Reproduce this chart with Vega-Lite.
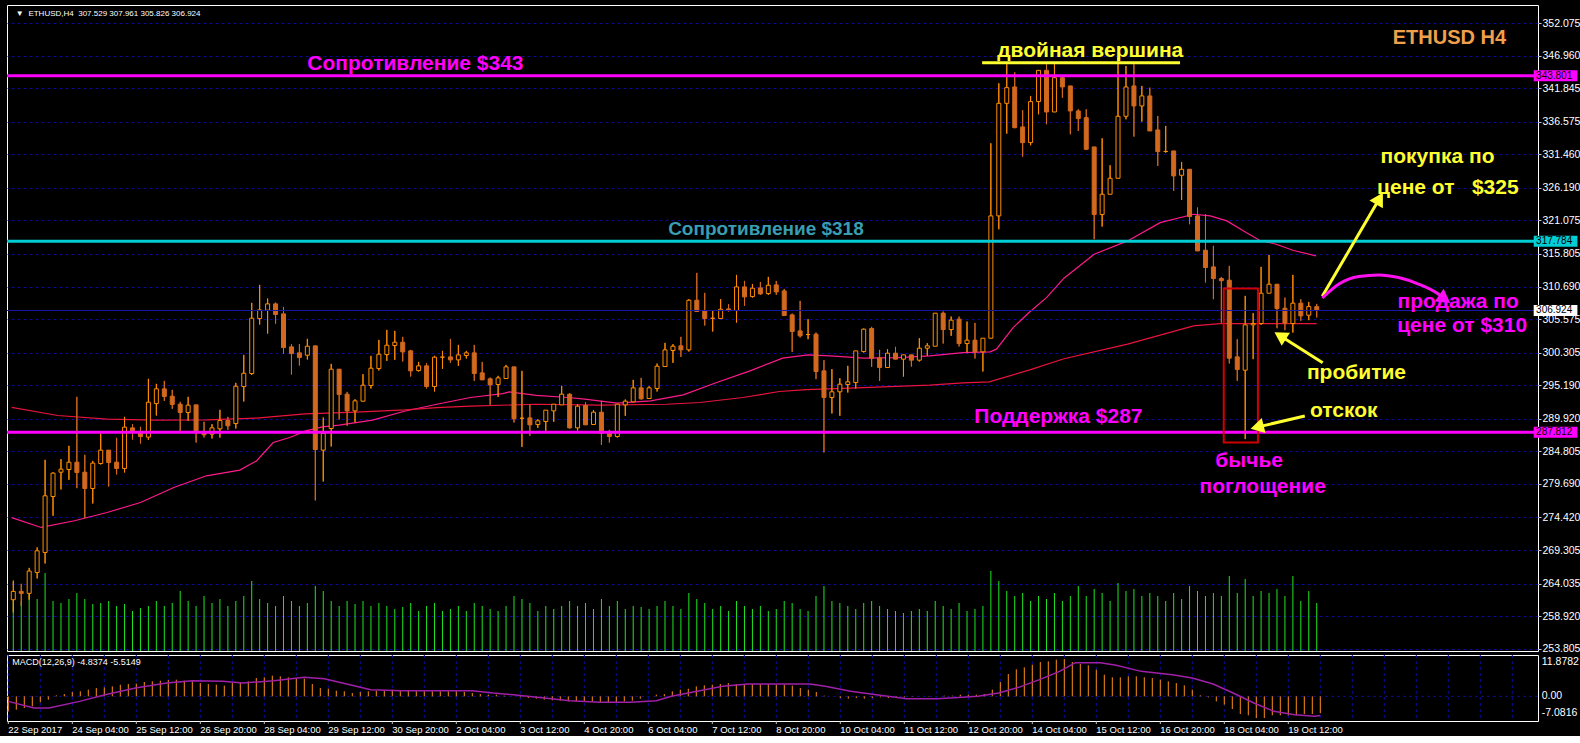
{
"$schema": "https://vega.github.io/schema/vega-lite/v6.json",
"background": "#000000",
"padding": {"left": 4, "top": 4, "right": 0, "bottom": 0},
"bounds": "flush",
"config": {"view": {"stroke": "#ffffff", "strokeWidth": 1}, "font": "Liberation Sans"},
"spacing": 4,
"datasets": {
"c": [
{"k":0,"o":261.5,"h":264.5,"l":259.5,"c":262.8,"v":60,"m":-4.31},
{"k":1,"o":262.8,"h":264.0,"l":260.5,"c":262.5,"v":50,"m":-3.83},
{"k":2,"o":262.5,"h":266.5,"l":261.5,"c":266.0,"v":62,"m":-3.35},
{"k":3,"o":265.78,"h":269.71,"l":264.84,"c":269.18,"v":52,"m":-2.87},
{"k":4,"o":268.92,"h":283.47,"l":267.19,"c":277.82,"v":78,"m":-1.72},
{"k":5,"o":277.71,"h":281.5,"l":274.68,"c":281.38,"v":50,"m":-0.96},
{"k":6,"o":281.53,"h":283.57,"l":278.81,"c":282.0,"v":48,"m":0.3},
{"k":7,"o":281.95,"h":285.67,"l":280.33,"c":283.1,"v":52,"m":0.67},
{"k":8,"o":283.1,"h":293.36,"l":279.02,"c":281.48,"v":58,"m":1.25},
{"k":9,"o":281.53,"h":284.25,"l":274.31,"c":278.97,"v":52,"m":1.44},
{"k":10,"o":278.97,"h":283.3,"l":276.61,"c":282.95,"v":47,"m":1.92},
{"k":11,"o":282.89,"h":287.6,"l":282.74,"c":284.99,"v":48,"m":2.39},
{"k":12,"o":284.99,"h":285.0,"l":279.28,"c":283.05,"v":50,"m":2.59},
{"k":13,"o":283.1,"h":286.92,"l":281.17,"c":282.11,"v":45,"m":2.87},
{"k":14,"o":282.11,"h":290.22,"l":281.48,"c":288.6,"v":47,"m":3.35},
{"k":15,"o":288.49,"h":289.07,"l":286.66,"c":288.02,"v":40,"m":3.54},
{"k":16,"o":287.76,"h":288.65,"l":286.03,"c":287.13,"v":43,"m":3.64},
{"k":17,"o":287.03,"h":296.19,"l":286.61,"c":292.52,"v":45,"m":4.12},
{"k":18,"o":292.31,"h":295.4,"l":290.43,"c":294.62,"v":50,"m":4.31},
{"k":19,"o":294.62,"h":295.87,"l":292.73,"c":293.41,"v":45,"m":4.5},
{"k":20,"o":293.46,"h":294.46,"l":291.48,"c":292.16,"v":48,"m":4.69},
{"k":21,"o":292.21,"h":292.57,"l":288.02,"c":290.9,"v":60,"m":4.79},
{"k":22,"o":290.9,"h":293.36,"l":289.59,"c":292.05,"v":50,"m":4.5},
{"k":23,"o":292.1,"h":292.1,"l":286.19,"c":288.02,"v":45,"m":4.31},
{"k":24,"o":287.76,"h":289.44,"l":286.98,"c":287.4,"v":55,"m":3.83},
{"k":25,"o":287.5,"h":289.07,"l":286.82,"c":288.49,"v":48,"m":3.54},
{"k":26,"o":288.34,"h":291.32,"l":286.97,"c":289.64,"v":52,"m":3.35},
{"k":27,"o":289.64,"h":290.22,"l":288.18,"c":288.81,"v":45,"m":3.07},
{"k":28,"o":289.17,"h":295.56,"l":288.39,"c":295.03,"v":50,"m":3.83},
{"k":29,"o":294.98,"h":299.95,"l":292.63,"c":297.07,"v":55,"m":4.12},
{"k":30,"o":297.02,"h":308.12,"l":296.81,"c":305.71,"v":70,"m":4.31},
{"k":31,"o":305.66,"h":310.94,"l":304.72,"c":307.02,"v":52,"m":5.27},
{"k":32,"o":306.97,"h":308.8,"l":303.3,"c":307.96,"v":48,"m":5.46},
{"k":33,"o":307.96,"h":308.17,"l":304.87,"c":306.29,"v":45,"m":5.94},
{"k":34,"o":306.39,"h":307.49,"l":300.16,"c":301.1,"v":55,"m":5.75},
{"k":35,"o":301.21,"h":301.63,"l":296.87,"c":300.16,"v":50,"m":5.46},
{"k":36,"o":300.27,"h":301.63,"l":298.28,"c":299.53,"v":45,"m":5.27},
{"k":37,"o":299.9,"h":302.47,"l":299.22,"c":301.31,"v":48,"m":5.08},
{"k":38,"o":301.37,"h":301.37,"l":277.09,"c":285.09,"v":65,"m":3.54},
{"k":39,"o":284.99,"h":290.12,"l":280.07,"c":287.6,"v":60,"m":2.39},
{"k":40,"o":288.39,"h":298.54,"l":285.56,"c":297.7,"v":50,"m":2.2},
{"k":41,"o":297.7,"h":297.7,"l":289.8,"c":293.73,"v":45,"m":1.63},
{"k":42,"o":293.78,"h":294.14,"l":288.81,"c":291.16,"v":50,"m":1.44},
{"k":43,"o":291.16,"h":292.99,"l":289.33,"c":292.73,"v":47,"m":0.96},
{"k":44,"o":292.68,"h":296.92,"l":292.68,"c":295.19,"v":50,"m":1.25},
{"k":45,"o":295.14,"h":299.8,"l":294.67,"c":297.86,"v":45,"m":1.44},
{"k":46,"o":297.81,"h":302.31,"l":297.5,"c":300.06,"v":48,"m":1.63},
{"k":47,"o":300.0,"h":303.88,"l":299.01,"c":301.47,"v":45,"m":1.63},
{"k":48,"o":301.42,"h":303.72,"l":299.17,"c":301.94,"v":42,"m":1.92},
{"k":49,"o":301.94,"h":302.78,"l":298.91,"c":300.42,"v":44,"m":1.82},
{"k":50,"o":300.58,"h":300.74,"l":296.55,"c":297.44,"v":48,"m":1.63},
{"k":51,"o":297.49,"h":298.85,"l":297.34,"c":298.23,"v":40,"m":1.44},
{"k":52,"o":298.23,"h":298.64,"l":294.67,"c":294.98,"v":45,"m":1.44},
{"k":53,"o":294.98,"h":299.8,"l":294.2,"c":299.59,"v":48,"m":1.44},
{"k":54,"o":299.6,"h":300.58,"l":297.76,"c":299.6,"v":40,"m":1.44},
{"k":55,"o":299.64,"h":302.46,"l":298.7,"c":299.17,"v":42,"m":1.44},
{"k":56,"o":299.17,"h":301.52,"l":298.23,"c":299.95,"v":45,"m":1.44},
{"k":57,"o":299.85,"h":300.58,"l":299.38,"c":300.27,"v":40,"m":1.25},
{"k":58,"o":300.27,"h":301.52,"l":295.87,"c":297.02,"v":48,"m":0.96},
{"k":59,"o":297.13,"h":298.85,"l":296.03,"c":296.03,"v":45,"m":0.67},
{"k":60,"o":296.19,"h":296.39,"l":292.1,"c":295.24,"v":42,"m":0.48},
{"k":61,"o":295.3,"h":296.66,"l":293.36,"c":296.34,"v":40,"m":0.48},
{"k":62,"o":296.24,"h":298.38,"l":296.24,"c":298.07,"v":45,"m":0.19},
{"k":63,"o":298.07,"h":298.07,"l":289.33,"c":289.91,"v":55,"m":0.0},
{"k":64,"o":290.0,"h":297.44,"l":285.51,"c":290.0,"v":52,"m":-0.29},
{"k":65,"o":290.06,"h":292.16,"l":287.24,"c":288.96,"v":48,"m":-0.48},
{"k":66,"o":289.02,"h":289.85,"l":288.49,"c":289.59,"v":40,"m":-0.67},
{"k":67,"o":289.49,"h":291.27,"l":288.02,"c":291.27,"v":45,"m":-0.96},
{"k":68,"o":291.16,"h":292.21,"l":289.44,"c":292.21,"v":42,"m":-1.15},
{"k":69,"o":292.1,"h":295.09,"l":292.1,"c":293.78,"v":45,"m":-1.25},
{"k":70,"o":293.78,"h":293.93,"l":288.39,"c":288.49,"v":50,"m":-1.44},
{"k":71,"o":288.49,"h":292.21,"l":288.07,"c":291.9,"v":45,"m":-1.44},
{"k":72,"o":292.0,"h":292.52,"l":288.96,"c":288.96,"v":48,"m":-1.63},
{"k":73,"o":289.02,"h":291.27,"l":289.02,"c":290.95,"v":42,"m":-1.63},
{"k":74,"o":290.95,"h":292.73,"l":285.83,"c":287.6,"v":52,"m":-1.72},
{"k":75,"o":287.6,"h":288.18,"l":286.19,"c":287.13,"v":45,"m":-1.92},
{"k":76,"o":287.13,"h":292.21,"l":286.98,"c":292.21,"v":50,"m":-1.63},
{"k":77,"o":292.1,"h":292.94,"l":290.38,"c":292.68,"v":42,"m":-1.44},
{"k":78,"o":292.58,"h":296.03,"l":292.58,"c":294.77,"v":45,"m":-1.25},
{"k":79,"o":294.77,"h":296.34,"l":292.94,"c":293.05,"v":44,"m":-0.67},
{"k":80,"o":293.1,"h":295.03,"l":293.1,"c":294.77,"v":42,"m":0.0},
{"k":81,"o":294.67,"h":298.59,"l":294.2,"c":298.17,"v":45,"m":0.48},
{"k":82,"o":298.12,"h":301.84,"l":298.12,"c":300.74,"v":50,"m":0.67},
{"k":83,"o":300.64,"h":301.63,"l":298.7,"c":301.31,"v":45,"m":1.44},
{"k":84,"o":301.37,"h":302.78,"l":299.64,"c":300.74,"v":42,"m":1.92},
{"k":85,"o":300.74,"h":308.69,"l":300.48,"c":308.53,"v":58,"m":2.2},
{"k":86,"o":308.53,"h":312.83,"l":306.76,"c":306.76,"v":52,"m":2.87},
{"k":87,"o":306.86,"h":309.69,"l":304.56,"c":305.66,"v":48,"m":3.16},
{"k":88,"o":305.7,"h":306.86,"l":303.62,"c":305.7,"v":42,"m":3.35},
{"k":89,"o":305.66,"h":308.69,"l":305.66,"c":307.12,"v":45,"m":3.54},
{"k":90,"o":307.17,"h":307.91,"l":306.76,"c":306.91,"v":40,"m":3.83},
{"k":91,"o":306.91,"h":312.51,"l":305.03,"c":310.63,"v":50,"m":3.54},
{"k":92,"o":310.63,"h":311.57,"l":307.65,"c":309.06,"v":45,"m":3.54},
{"k":93,"o":309.11,"h":311.05,"l":308.95,"c":310.42,"v":42,"m":3.54},
{"k":94,"o":310.47,"h":311.41,"l":309.37,"c":309.53,"v":45,"m":3.54},
{"k":95,"o":309.58,"h":312.2,"l":309.37,"c":310.89,"v":40,"m":3.54},
{"k":96,"o":310.94,"h":311.57,"l":309.37,"c":309.84,"v":42,"m":3.35},
{"k":97,"o":310.0,"h":310.31,"l":306.13,"c":306.13,"v":50,"m":3.35},
{"k":98,"o":306.23,"h":306.44,"l":300.43,"c":303.62,"v":48,"m":3.07},
{"k":99,"o":303.72,"h":308.43,"l":302.68,"c":302.94,"v":42,"m":2.39},
{"k":100,"o":303.15,"h":305.56,"l":302.41,"c":303.15,"v":40,"m":1.92},
{"k":101,"o":303.2,"h":303.46,"l":296.14,"c":297.34,"v":55,"m":1.25},
{"k":102,"o":297.44,"h":299.12,"l":284.62,"c":293.26,"v":65,"m":0.19},
{"k":103,"o":293.26,"h":297.71,"l":290.75,"c":294.15,"v":50,"m":0.0},
{"k":104,"o":294.15,"h":296.29,"l":290.38,"c":295.35,"v":48,"m":-0.48},
{"k":105,"o":295.3,"h":298.23,"l":294.04,"c":295.72,"v":45,"m":-0.67},
{"k":106,"o":295.61,"h":300.58,"l":294.67,"c":300.58,"v":42,"m":-0.48},
{"k":107,"o":300.48,"h":304.09,"l":300.32,"c":303.99,"v":48,"m":-0.67},
{"k":108,"o":304.09,"h":304.35,"l":298.07,"c":299.43,"v":50,"m":-0.48},
{"k":109,"o":299.48,"h":300.74,"l":295.87,"c":297.97,"v":45,"m":-0.29},
{"k":110,"o":297.97,"h":300.84,"l":297.97,"c":300.22,"v":42,"m":-0.48},
{"k":111,"o":300.22,"h":301.21,"l":299.28,"c":299.28,"v":40,"m":-0.29},
{"k":112,"o":299.28,"h":299.96,"l":296.55,"c":299.96,"v":38,"m":-0.29},
{"k":113,"o":299.96,"h":299.96,"l":298.12,"c":299.12,"v":40,"m":-0.1},
{"k":114,"o":299.12,"h":302.57,"l":298.91,"c":301.0,"v":42,"m":0.0},
{"k":115,"o":301.0,"h":301.79,"l":299.8,"c":301.37,"v":40,"m":-0.1},
{"k":116,"o":301.31,"h":306.5,"l":301.31,"c":306.5,"v":50,"m":0.0},
{"k":117,"o":306.5,"h":306.76,"l":301.73,"c":303.93,"v":45,"m":0.19},
{"k":118,"o":303.93,"h":305.97,"l":302.94,"c":305.4,"v":42,"m":0.19},
{"k":119,"o":305.56,"h":305.97,"l":301.27,"c":301.73,"v":48,"m":0.48},
{"k":120,"o":301.73,"h":305.19,"l":300.32,"c":302.26,"v":40,"m":0.48},
{"k":121,"o":302.26,"h":304.98,"l":299.38,"c":300.43,"v":42,"m":0.48},
{"k":122,"o":300.43,"h":302.57,"l":297.34,"c":302.57,"v":45,"m":0.67},
{"k":123,"o":302.57,"h":333.18,"l":302.57,"c":321.78,"v":80,"m":1.92},
{"k":124,"o":321.78,"h":342.6,"l":319.68,"c":339.46,"v":70,"m":4.12},
{"k":125,"o":339.46,"h":345.59,"l":334.7,"c":341.92,"v":60,"m":6.42},
{"k":126,"o":342.03,"h":344.33,"l":335.54,"c":335.64,"v":55,"m":7.76},
{"k":127,"o":335.75,"h":338.37,"l":331.09,"c":333.29,"v":58,"m":8.33},
{"k":128,"o":333.29,"h":340.62,"l":332.87,"c":339.73,"v":50,"m":9.1},
{"k":129,"o":339.73,"h":344.64,"l":337.74,"c":344.64,"v":55,"m":9.87},
{"k":130,"o":344.64,"h":345.59,"l":336.17,"c":338.1,"v":52,"m":10.06},
{"k":131,"o":338.1,"h":345.59,"l":338.1,"c":343.49,"v":58,"m":10.54},
{"k":132,"o":343.49,"h":343.49,"l":340.35,"c":342.03,"v":50,"m":10.73},
{"k":133,"o":342.19,"h":342.19,"l":334.6,"c":338.26,"v":55,"m":9.87},
{"k":134,"o":338.26,"h":338.52,"l":335.12,"c":337.06,"v":65,"m":9.29},
{"k":135,"o":337.21,"h":338.52,"l":332.14,"c":332.24,"v":55,"m":8.91},
{"k":136,"o":332.61,"h":332.61,"l":318.11,"c":321.99,"v":62,"m":7.67},
{"k":137,"o":321.99,"h":333.97,"l":320.1,"c":325.18,"v":58,"m":6.23},
{"k":138,"o":325.18,"h":329.73,"l":325.18,"c":327.69,"v":50,"m":5.46},
{"k":139,"o":327.69,"h":346.63,"l":327.69,"c":337.42,"v":68,"m":5.46},
{"k":140,"o":337.42,"h":345.33,"l":336.95,"c":342.03,"v":60,"m":5.75},
{"k":141,"o":342.19,"h":345.59,"l":334.23,"c":339.05,"v":62,"m":5.75},
{"k":142,"o":339.05,"h":342.19,"l":336.58,"c":340.62,"v":55,"m":5.46},
{"k":143,"o":340.62,"h":341.92,"l":335.12,"c":335.12,"v":58,"m":5.27},
{"k":144,"o":335.28,"h":337.48,"l":329.63,"c":331.88,"v":55,"m":4.79},
{"k":145,"o":331.9,"h":335.91,"l":331.72,"c":331.9,"v":50,"m":4.31},
{"k":146,"o":331.98,"h":331.98,"l":325.7,"c":328.06,"v":58,"m":3.83},
{"k":147,"o":328.16,"h":330.25,"l":324.29,"c":329.1,"v":52,"m":3.16},
{"k":148,"o":329.1,"h":329.1,"l":320.47,"c":321.67,"v":65,"m":1.92},
{"k":149,"o":321.78,"h":323.09,"l":316.28,"c":316.28,"v":60,"m":0.29},
{"k":150,"o":316.39,"h":322.04,"l":311.31,"c":313.67,"v":55,"m":-0.29},
{"k":151,"o":313.77,"h":317.07,"l":308.69,"c":311.94,"v":58,"m":-1.44},
{"k":152,"o":311.94,"h":312.2,"l":305.0,"c":311.6,"v":55,"m":-2.39},
{"k":153,"o":311.68,"h":313.93,"l":298.6,"c":299.43,"v":75,"m":-3.64},
{"k":154,"o":299.64,"h":302.41,"l":295.87,"c":297.65,"v":58,"m":-5.08},
{"k":155,"o":297.55,"h":309.22,"l":286.72,"c":304.67,"v":72,"m":-5.46},
{"k":156,"o":304.67,"h":306.5,"l":299.28,"c":304.88,"v":55,"m":-6.23},
{"k":157,"o":304.88,"h":313.77,"l":304.67,"c":309.64,"v":60,"m":-6.23},
{"k":158,"o":309.64,"h":315.65,"l":309.64,"c":311.05,"v":58,"m":-5.46},
{"k":159,"o":311.05,"h":311.05,"l":304.14,"c":307.23,"v":62,"m":-5.46},
{"k":160,"o":307.28,"h":308.95,"l":303.83,"c":304.93,"v":55,"m":-5.46},
{"k":161,"o":304.88,"h":312.51,"l":303.46,"c":308.07,"v":75,"m":-5.46},
{"k":162,"o":308.07,"h":308.69,"l":305.3,"c":306.08,"v":50,"m":-5.08},
{"k":163,"o":306.18,"h":308.27,"l":305.4,"c":307.54,"v":60,"m":-5.08},
{"k":164,"o":307.529,"h":307.961,"l":305.826,"c":306.924,"v":48,"m":-4.84}
],
"ma1": [
{"k":-0.2,"p":274.4},{"k":3.5,"p":272.85},{"k":7.7,"p":273.9},{"k":11.8,"p":275.2},{"k":16,"p":276.77},{"k":20.2,"p":279.13},{"k":24.3,"p":280.96},{"k":28.5,"p":281.85},{"k":30.6,"p":283.3},{"k":32.7,"p":286.19},{"k":34.8,"p":286.97},{"k":36.8,"p":288.02},{"k":38.9,"p":288.65},{"k":41,"p":288.91},{"k":45.2,"p":289.7},{"k":49.2,"p":291.1},{"k":53.3,"p":292.2},{"k":57.5,"p":293.26},{"k":61.6,"p":293.88},{"k":62.4,"p":294.15},{"k":65.8,"p":293.6},{"k":69.8,"p":293.26},{"k":71.9,"p":293.0},{"k":76,"p":292.37},{"k":80.2,"p":292.73},{"k":84.3,"p":293.67},{"k":88.5,"p":295.61},{"k":92.7,"p":297.44},{"k":96.8,"p":299.43},{"k":100,"p":299.95},{"k":102.8,"p":299.8},{"k":107,"p":299.43},{"k":111.2,"p":299.53},{"k":115.3,"p":299.8},{"k":119.5,"p":300.32},{"k":122.9,"p":300.43},{"k":123.7,"p":300.85},{"k":125.8,"p":304.24},{"k":127.8,"p":306.6},{"k":130,"p":308.95},{"k":132.2,"p":312.0},{"k":136,"p":315.76},{"k":140.2,"p":317.85},{"k":144.3,"p":320.72},{"k":148.5,"p":322.04},{"k":150.6,"p":321.78},{"k":152.7,"p":320.99},{"k":154.8,"p":319.42},{"k":156.8,"p":317.96},{"k":158.9,"p":317.33},{"k":161,"p":316.39},{"k":163.9,"p":315.5}
],
"ma2": [
{"k":-0.2,"p":291.7},{"k":5.6,"p":290.43},{"k":11.8,"p":289.86},{"k":18,"p":289.7},{"k":24.3,"p":289.75},{"k":30.6,"p":290.02},{"k":36.7,"p":290.7},{"k":43.1,"p":290.96},{"k":49.3,"p":291.3},{"k":53.3,"p":291.68},{"k":57.5,"p":291.9},{"k":65.7,"p":292.2},{"k":73.9,"p":292.06},{"k":82.2,"p":292.2},{"k":86.4,"p":292.47},{"k":91.8,"p":293.26},{"k":96.4,"p":294.2},{"k":99.8,"p":294.5},{"k":107,"p":294.82},{"k":115.3,"p":295.2},{"k":119.5,"p":295.56},{"k":122.8,"p":295.72},{"k":127.8,"p":297.55},{"k":132.2,"p":299.35},{"k":140.2,"p":301.63},{"k":148.5,"p":304.51},{"k":151.8,"p":304.87},{"k":156.8,"p":304.87},{"k":164,"p":304.87}
],
"sig": [
{"k":0,"s":-1.44},{"k":3.2,"s":-3.35},{"k":5.1,"s":-3.35},{"k":8.9,"s":-1.44},{"k":12.1,"s":0.48},{"k":15.9,"s":2.39},{"k":19.8,"s":3.83},{"k":23,"s":4.5},{"k":26.8,"s":4.31},{"k":29.3,"s":3.83},{"k":33.2,"s":4.5},{"k":37,"s":5.46},{"k":39.5,"s":5.08},{"k":42.7,"s":3.35},{"k":45.3,"s":1.92},{"k":49.1,"s":1.63},{"k":58,"s":1.63},{"k":60.6,"s":0.96},{"k":63.1,"s":0.48},{"k":67,"s":-0.48},{"k":70.2,"s":-1.25},{"k":74,"s":-1.72},{"k":77.8,"s":-1.72},{"k":81,"s":-1.25},{"k":82.9,"s":0},{"k":86.1,"s":1.44},{"k":89.3,"s":2.87},{"k":92.5,"s":3.54},{"k":98.9,"s":3.54},{"k":100.2,"s":3.54},{"k":102.1,"s":2.87},{"k":105.3,"s":1.44},{"k":108.5,"s":0.48},{"k":112.3,"s":-0.67},{"k":116.1,"s":-0.67},{"k":119.3,"s":-0.29},{"k":121.2,"s":0},{"k":123.8,"s":0.96},{"k":126.3,"s":2.59},{"k":128.9,"s":4.79},{"k":131.4,"s":7.18},{"k":133.4,"s":9.67},{"k":136.5,"s":9.67},{"k":138.5,"s":8.91},{"k":141.6,"s":7.18},{"k":145.5,"s":6.23},{"k":148,"s":5.27},{"k":150.6,"s":3.54},{"k":153.1,"s":0.96},{"k":155.7,"s":-1.92},{"k":158.2,"s":-4.31},{"k":160.8,"s":-5.27},{"k":163.3,"s":-5.75},{"k":164,"s":-5.51}
],
"ann": [
{"k":50.6,"p":345.56,"t":"Сопротивление $343","g":"m"},
{"k":135.5,"p":347.6,"t":"двойная вершина","g":"y"},
{"k":179.2,"p":331.03,"t":"покупка по","g":"y"},
{"k":180.5,"p":326.2,"t":"цене от\u00a0\u00a0 $325","g":"y"},
{"k":181.8,"p":308.21,"t":"продажа по","g":"m"},
{"k":182.3,"p":304.56,"t":"цене от $310","g":"m"},
{"k":169,"p":297.13,"t":"пробитие","g":"y"},
{"k":167.4,"p":291.14,"t":"отскок","g":"y"},
{"k":131.5,"p":290.19,"t":"Поддержка $287","g":"m"},
{"k":155.5,"p":283.28,"t":"бычье","g":"m"},
{"k":157.2,"p":279.25,"t":"поглощение","g":"m"}
],
"arrows": [
{"k1":164.7,"p1":309.15,"k2":171.9,"p2":324.51},
{"k1":164.75,"p1":298.72,"k2":159.4,"p2":302.96},
{"k1":162.5,"p1":290.35,"k2":156.5,"p2":288.6}
],
"curve": [
{"k":164.7,"p":308.88},{"k":166.8,"p":311.08},{"k":169.3,"p":312.26},{"k":171.8,"p":312.5},{"k":174.3,"p":312.1},{"k":176.8,"p":311.08},{"k":179.3,"p":309.51},{"k":180.1,"p":308.72}
],
"levels": [
{"p":343.801,"g":"m"},{"p":317.784,"g":"c"},{"p":287.812,"g":"m"}
],
"tags": [
{"p":343.801,"lo":342.94,"hi":344.66,"g":"m","t":"343.801"},
{"p":317.784,"lo":316.92,"hi":318.65,"g":"c","t":"317.784"},
{"p":306.924,"lo":306.06,"hi":307.79,"g":"w","t":"306.924"},
{"p":287.812,"lo":286.95,"hi":288.68,"g":"m","t":"287.812"}
],
"xlab": [
{"k":0,"t":"22 Sep 2017"},{"k":8,"t":"24 Sep 04:00"},{"k":16,"t":"25 Sep 12:00"},{"k":24,"t":"26 Sep 20:00"},{"k":32,"t":"28 Sep 04:00"},{"k":40,"t":"29 Sep 12:00"},{"k":48,"t":"30 Sep 20:00"},{"k":56,"t":"2 Oct 04:00"},{"k":64,"t":"3 Oct 12:00"},{"k":72,"t":"4 Oct 20:00"},{"k":80,"t":"6 Oct 04:00"},{"k":88,"t":"7 Oct 12:00"},{"k":96,"t":"8 Oct 20:00"},{"k":104,"t":"10 Oct 04:00"},{"k":112,"t":"11 Oct 12:00"},{"k":120,"t":"12 Oct 20:00"},{"k":128,"t":"14 Oct 04:00"},{"k":136,"t":"15 Oct 12:00"},{"k":144,"t":"16 Oct 20:00"},{"k":152,"t":"18 Oct 04:00"},{"k":160,"t":"19 Oct 12:00"}
],
"vg": [
{"k":0},{"k":4},{"k":8},{"k":12},{"k":16},{"k":20},{"k":24},{"k":28},{"k":32},{"k":36},{"k":40},{"k":44},{"k":48},{"k":52},{"k":56},{"k":60},{"k":64},{"k":68},{"k":72},{"k":76},{"k":80},{"k":84},{"k":88},{"k":92},{"k":96},{"k":100},{"k":104},{"k":108},{"k":112},{"k":116},{"k":120},{"k":124},{"k":128},{"k":132},{"k":136},{"k":140},{"k":144},{"k":148},{"k":152},{"k":156},{"k":160},{"k":164},{"k":168},{"k":172},{"k":176},{"k":180},{"k":184},{"k":188}
],
"mlab": [
{"m":9.87,"t":"11.8782"},{"m":0,"t":"0.00"},{"m":-4.9,"t":"-7.0816"}
]
},
"vconcat": [
{
"width": 1531, "height": 646,
"resolve": {"scale": {"y": "independent"}},
"layer": [
{
"data": {"name": "c"},
"mark": {"type": "rule", "color": "#1ee61e", "strokeWidth": 1, "clip": true},
"encoding": {
"x": {"field": "k", "type": "quantitative", "scale": {"domain": [-0.1625, 191.2125], "nice": false, "zero": false},
"axis": {"values": [0,4,8,12,16,20,24,28,32,36,40,44,48,52,56,60,64,68,72,76,80,84,88,92,96,100,104,108,112,116,120,124,128,132,136,140,144,148,152,156,160,164,168,172,176,180,184,188], "grid": true, "gridColor": "#0a0a9a", "gridDash": [3,3], "gridWidth": 1, "labels": false, "ticks": false, "domain": false, "title": null}},
"y": {"field": "v", "type": "quantitative", "scale": {"domain": [0, 646], "nice": false, "zero": false}, "axis": null},
"y2": {"datum": 0}
}
},
{
"data": {"name": "c"},
"mark": {"type": "rule", "strokeWidth": 1, "clip": true},
"encoding": {
"x": {"field": "k", "type": "quantitative", "axis": null},
"y": {"field": "l", "type": "quantitative", "scale": {"domain": [253.445, 354.902], "nice": false, "zero": false},
"axis": {"orient": "right", "values": [352.075,346.960,341.845,336.575,331.460,326.190,321.075,315.805,310.690,305.575,300.305,295.190,289.920,284.805,279.690,274.420,269.305,264.035,258.920,253.805], "format": ".3f", "grid": true, "gridColor": "#0a0a9a", "gridDash": [3,3], "gridWidth": 1, "domain": false, "tickColor": "#c8c8c8", "tickSize": 3, "labelColor": "#ffffff", "labelFontSize": 10.5, "labelPadding": 1, "labelFont": "Liberation Sans", "labelOverlap": false, "title": null}},
"y2": {"field": "h"},
"color": {"condition": {"test": "datum.c >= datum.o", "value": "#ff8c00"}, "value": "#d2691e"}
}
},
{
"data": {"name": "ma1"},
"mark": {"type": "line", "color": "#ff1a8c", "strokeWidth": 1.2, "clip": true},
"encoding": {
"x": {"field": "k", "type": "quantitative", "axis": null},
"y": {"field": "p", "type": "quantitative", "scale": {"domain": [253.445, 354.902], "nice": false, "zero": false}, "axis": null}
}
},
{
"data": {"name": "ma2"},
"mark": {"type": "line", "color": "#e8143c", "strokeWidth": 1.2, "clip": true},
"encoding": {
"x": {"field": "k", "type": "quantitative", "axis": null},
"y": {"field": "p", "type": "quantitative", "scale": {"domain": [253.445, 354.902], "nice": false, "zero": false}, "axis": null}
}
},
{
"data": {"name": "c"},
"mark": {"type": "rule", "strokeWidth": 1, "clip": true},
"encoding": {
"x": {"field": "k", "type": "quantitative", "axis": null},
"y": {"field": "l", "type": "quantitative", "scale": {"domain": [253.445, 354.902], "nice": false, "zero": false}, "axis": null},
"y2": {"field": "h"},
"color": {"condition": {"test": "datum.c >= datum.o", "value": "#ff8c00"}, "value": "#d2691e"}
}
},
{
"data": {"name": "c"},
"transform": [{"filter": "datum.c >= datum.o"}],
"mark": {"type": "bar", "width": 4, "fill": "#000000", "stroke": "#ff8c00", "strokeWidth": 1, "clip": true},
"encoding": {
"x": {"field": "k", "type": "quantitative", "axis": null},
"y": {"field": "o", "type": "quantitative", "scale": {"domain": [253.445, 354.902], "nice": false, "zero": false}, "axis": null},
"y2": {"field": "c"}
}
},
{
"data": {"name": "c"},
"transform": [{"filter": "datum.c < datum.o"}],
"mark": {"type": "bar", "width": 4, "fill": "#d2691e", "stroke": "#d2691e", "strokeWidth": 1, "clip": true},
"encoding": {
"x": {"field": "k", "type": "quantitative", "axis": null},
"y": {"field": "o", "type": "quantitative", "scale": {"domain": [253.445, 354.902], "nice": false, "zero": false}, "axis": null},
"y2": {"field": "c"}
}
},
{
"data": {"values": [{"p": 306.924}]},
"mark": {"type": "rule", "color": "#1818a8", "strokeWidth": 1},
"encoding": {
"y": {"field": "p", "type": "quantitative", "scale": {"domain": [253.445, 354.902], "nice": false, "zero": false}, "axis": null}
}
},
{
"data": {"name": "levels"},
"mark": {"type": "rule", "strokeWidth": 3},
"encoding": {
"y": {"field": "p", "type": "quantitative", "scale": {"domain": [253.445, 354.902], "nice": false, "zero": false}, "axis": null},
"color": {"field": "g", "type": "nominal", "scale": {"domain": ["m","c","w","y","t"], "range": ["#ff00ff","#00cdd4","#ffffff","#ffff30","#3a9db2"]}, "legend": null}
}
},
{
"data": {"values": [{"k1":152.3,"k2":156.6,"p1":310.36,"p2":286.19}]},
"mark": {"type": "rect", "filled": false, "stroke": "#d00000", "strokeWidth": 2},
"encoding": {
"x": {"field": "k1", "type": "quantitative", "axis": null},
"x2": {"field": "k2"},
"y": {"field": "p1", "type": "quantitative", "scale": {"domain": [253.445, 354.902], "nice": false, "zero": false}, "axis": null},
"y2": {"field": "p2"}
}
},
{
"data": {"values": [{"k1":121.9,"k2":146.8,"p":345.84}]},
"mark": {"type": "rule", "color": "#ffff30", "strokeWidth": 3},
"encoding": {
"x": {"field": "k1", "type": "quantitative", "axis": null},
"x2": {"field": "k2"},
"y": {"field": "p", "type": "quantitative", "scale": {"domain": [253.445, 354.902], "nice": false, "zero": false}, "axis": null}
}
},
{
"data": {"name": "arrows"},
"mark": {"type": "rule", "color": "#ffff30", "strokeWidth": 3},
"encoding": {
"x": {"field": "k1", "type": "quantitative", "axis": null},
"x2": {"field": "k2"},
"y": {"field": "p1", "type": "quantitative", "scale": {"domain": [253.445, 354.902], "nice": false, "zero": false}, "axis": null},
"y2": {"field": "p2"}
}
},
{
"data": {"values": [{"k": 171.9, "p": 324.51}]},
"mark": {"type": "point", "shape": "triangle-up", "filled": true, "color": "#ffff30", "opacity": 1, "size": 240, "angle": 30},
"encoding": {
"x": {"field": "k", "type": "quantitative", "axis": null},
"y": {"field": "p", "type": "quantitative", "scale": {"domain": [253.445, 354.902], "nice": false, "zero": false}, "axis": null}
}
},
{
"data": {"values": [{"k": 159.4, "p": 302.96}]},
"mark": {"type": "point", "shape": "triangle-up", "filled": true, "color": "#ffff30", "opacity": 1, "size": 240, "angle": 302},
"encoding": {
"x": {"field": "k", "type": "quantitative", "axis": null},
"y": {"field": "p", "type": "quantitative", "scale": {"domain": [253.445, 354.902], "nice": false, "zero": false}, "axis": null}
}
},
{
"data": {"values": [{"k": 156.5, "p": 288.6}]},
"mark": {"type": "point", "shape": "triangle-up", "filled": true, "color": "#ffff30", "opacity": 1, "size": 240, "angle": 256},
"encoding": {
"x": {"field": "k", "type": "quantitative", "axis": null},
"y": {"field": "p", "type": "quantitative", "scale": {"domain": [253.445, 354.902], "nice": false, "zero": false}, "axis": null}
}
},
{
"data": {"name": "curve"},
"mark": {"type": "line", "color": "#ff10f0", "strokeWidth": 3, "interpolate": "monotone"},
"encoding": {
"x": {"field": "k", "type": "quantitative", "axis": null},
"y": {"field": "p", "type": "quantitative", "scale": {"domain": [253.445, 354.902], "nice": false, "zero": false}, "axis": null}
}
},
{
"data": {"values": [{"k": 180.1, "p": 308.72}]},
"mark": {"type": "point", "shape": "triangle-up", "filled": true, "color": "#ff10f0", "opacity": 1, "size": 240, "angle": 125},
"encoding": {
"x": {"field": "k", "type": "quantitative", "axis": null},
"y": {"field": "p", "type": "quantitative", "scale": {"domain": [253.445, 354.902], "nice": false, "zero": false}, "axis": null}
}
},
{
"data": {"name": "ann"},
"mark": {"type": "text", "font": "Liberation Sans", "fontWeight": "bold", "fontSize": 21, "align": "center", "baseline": "middle"},
"encoding": {
"x": {"field": "k", "type": "quantitative", "axis": null},
"y": {"field": "p", "type": "quantitative", "scale": {"domain": [253.445, 354.902], "nice": false, "zero": false}, "axis": null},
"text": {"field": "t"},
"color": {"field": "g", "type": "nominal", "scale": {"domain": ["m","c","w","y","t"], "range": ["#ff00ff","#00cdd4","#ffffff","#ffff30","#3a9db2"]}, "legend": null}
}
},
{
"data": {"values": [{"k":94.7,"p":319.8,"t":"Сопротивление $318"}]},
"mark": {"type": "text", "font": "Liberation Sans", "fontWeight": "bold", "fontSize": 19, "align": "center", "baseline": "middle", "color": "#3a9db2"},
"encoding": {
"x": {"field": "k", "type": "quantitative", "axis": null},
"y": {"field": "p", "type": "quantitative", "scale": {"domain": [253.445, 354.902], "nice": false, "zero": false}, "axis": null},
"text": {"field": "t"}
}
},
{
"data": {"values": [{"k":180.7,"p":349.67,"t":"ETHUSD H4"}]},
"mark": {"type": "text", "font": "Liberation Sans", "fontWeight": "bold", "fontSize": 20, "align": "center", "baseline": "middle", "color": "#f0a04b"},
"encoding": {
"x": {"field": "k", "type": "quantitative", "axis": null},
"y": {"field": "p", "type": "quantitative", "scale": {"domain": [253.445, 354.902], "nice": false, "zero": false}, "axis": null},
"text": {"field": "t"}
}
},
{
"data": {"values": [{"k":0.3,"p":353.49,"t":"▼"},{"k":1.9,"p":353.49,"t":"ETHUSD,H4\u00a0\u00a0307.529 307.961 305.826 306.924"}]},
"mark": {"type": "text", "font": "Liberation Sans", "fontSize": 8, "align": "left", "baseline": "middle", "color": "#ffffff"},
"encoding": {
"x": {"field": "k", "type": "quantitative", "axis": null},
"y": {"field": "p", "type": "quantitative", "scale": {"domain": [253.445, 354.902], "nice": false, "zero": false}, "axis": null},
"text": {"field": "t"}
}
},
{
"data": {"name": "tags"},
"mark": {"type": "rect"},
"encoding": {
"x": {"datum": 191.3, "type": "quantitative", "axis": null},
"x2": {"datum": 196.8},
"y": {"field": "lo", "type": "quantitative", "scale": {"domain": [253.445, 354.902], "nice": false, "zero": false}, "axis": null},
"y2": {"field": "hi"},
"color": {"field": "g", "type": "nominal", "scale": {"domain": ["m","c","w","y","t"], "range": ["#ff00ff","#00cdd4","#ffffff","#ffff30","#3a9db2"]}, "legend": null}
}
},
{
"data": {"name": "tags"},
"mark": {"type": "text", "font": "Liberation Sans", "fontSize": 10, "align": "left", "baseline": "middle", "color": "#000000"},
"encoding": {
"x": {"datum": 191.6, "type": "quantitative", "axis": null},
"y": {"field": "p", "type": "quantitative", "scale": {"domain": [253.445, 354.902], "nice": false, "zero": false}, "axis": null},
"text": {"field": "t"}
}
}
]
},
{
"width": 1531, "height": 66,
"layer": [
{
"data": {"name": "vg"},
"mark": {"type": "rule", "color": "#0a0a9a", "strokeWidth": 1, "strokeDash": [3,3]},
"encoding": {
"x": {"field": "k", "type": "quantitative", "scale": {"domain": [-0.1625, 191.2125], "nice": false, "zero": false}, "axis": null}
}
},
{
"data": {"values": [{"m": 0}]},
"mark": {"type": "rule", "color": "#0a0a9a", "strokeWidth": 1, "strokeDash": [3,3]},
"encoding": {
"y": {"field": "m", "type": "quantitative", "scale": {"domain": [-7.0816, 11.8782], "nice": false, "zero": false}, "axis": null}
}
},
{
"data": {"name": "c"},
"mark": {"type": "rule", "color": "#ff8c1a", "strokeWidth": 1},
"encoding": {
"x": {"field": "k", "type": "quantitative", "axis": null},
"y": {"field": "m", "type": "quantitative", "scale": {"domain": [-7.0816, 11.8782], "nice": false, "zero": false}, "axis": null},
"y2": {"datum": 0}
}
},
{
"data": {"name": "sig"},
"mark": {"type": "line", "color": "#a020a8", "strokeWidth": 1.5},
"encoding": {
"x": {"field": "k", "type": "quantitative", "axis": null},
"y": {"field": "s", "type": "quantitative", "scale": {"domain": [-7.0816, 11.8782], "nice": false, "zero": false}, "axis": null}
}
},
{
"data": {"values": [{"k":0.5,"m":9.87,"t":"MACD(12,26,9) -4.8374 -5.5149"}]},
"mark": {"type": "text", "font": "Liberation Sans", "fontSize": 9, "align": "left", "baseline": "middle", "color": "#ffffff"},
"encoding": {
"x": {"field": "k", "type": "quantitative", "axis": null},
"y": {"field": "m", "type": "quantitative", "scale": {"domain": [-7.0816, 11.8782], "nice": false, "zero": false}, "axis": null},
"text": {"field": "t"}
}
},
{
"data": {"name": "xlab"},
"mark": {"type": "text", "font": "Liberation Sans", "fontSize": 9.5, "align": "left", "baseline": "middle", "color": "#ffffff"},
"encoding": {
"x": {"field": "k", "type": "quantitative", "axis": null},
"y": {"datum": -9.67, "type": "quantitative", "scale": {"domain": [-7.0816, 11.8782], "nice": false, "zero": false}, "axis": null},
"text": {"field": "t"}
}
},
{
"data": {"name": "xlab"},
"mark": {"type": "rule", "color": "#c8c8c8", "strokeWidth": 1},
"encoding": {
"x": {"field": "k", "type": "quantitative", "axis": null},
"y": {"datum": -7.0816, "type": "quantitative", "scale": {"domain": [-7.0816, 11.8782], "nice": false, "zero": false}, "axis": null},
"y2": {"datum": -7.95}
}
},
{
"data": {"name": "mlab"},
"mark": {"type": "text", "font": "Liberation Sans", "fontSize": 10.5, "align": "left", "baseline": "middle", "color": "#ffffff"},
"encoding": {
"x": {"datum": 191.68, "type": "quantitative", "axis": null},
"y": {"field": "m", "type": "quantitative", "scale": {"domain": [-7.0816, 11.8782], "nice": false, "zero": false}, "axis": null},
"text": {"field": "t"}
}
}
]
}
]
}
